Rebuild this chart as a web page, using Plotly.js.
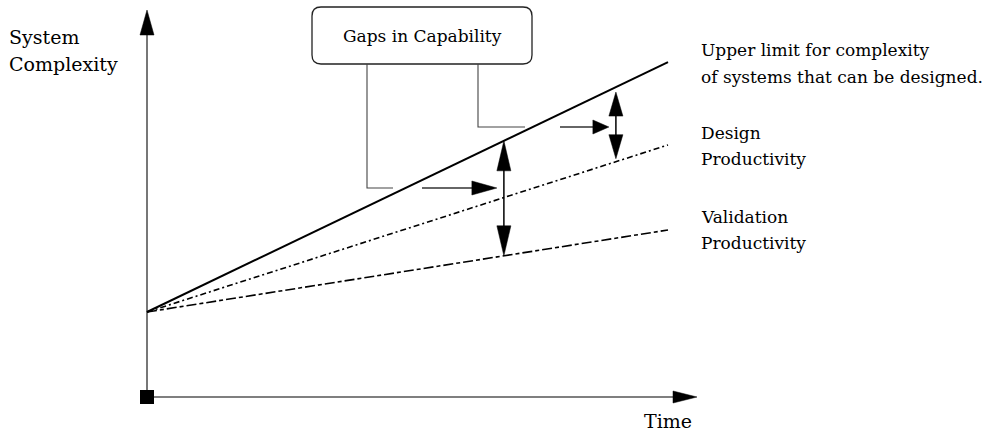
<!DOCTYPE html>
<html>
<head>
<meta charset="utf-8">
<script src="https://cdn.plot.ly/plotly-3.0.1.min.js"></script>
<style>html,body{margin:0;padding:0;background:#fff;}#chart{width:985px;height:436px;}</style>
</head>
<body>
<div id="chart"></div>
<script>
// ---- data ----
const time = [0, 10];
const upperLimit = [2, 7.88];
const designProductivity = [2, 5.93];
const validationProductivity = [2, 3.93];
const gapTimes = [6.85, 9.0];
const seriesNames = ["Upper limit for complexity", "of systems that can be designed.", "Design", "Productivity", "Validation", "Productivity"];
const axisTitles = ["System", "Complexity", "Time"];
const calloutText = "Gaps in Capability";

// ---- pixel <-> data helpers (layout only) ----
const W = 985, H = 436, OX = 147, OY = 397, SX = 52.1, SY = 42.5;
const X = px => (px - OX) / SX;
const Y = py => (OY - py) / SY;
const PX = x => OX + x * SX;
const PY = y => OY - y * SY;
const valueAt = (s, t) => s[0] + (s[1] - s[0]) * (t - time[0]) / (time[1] - time[0]);

const shapes = [];
function pathFromPx(pts, close) {
  let d = pts.map((p, i) => (i ? 'L' : 'M') + X(p[0]).toFixed(4) + ',' + Y(p[1]).toFixed(4)).join(' ');
  if (close) d += ' Z';
  return d;
}
function head(tx, ty, dx, dy, len, hw, layer) {
  const n = Math.hypot(dx, dy); dx /= n; dy /= n;
  const bx = tx - dx * len, by = ty - dy * len;
  const qx = -dy, qy = dx;
  shapes.push({type: 'path', xref: 'x', yref: 'y', path: pathFromPx([[tx, ty], [bx + qx * hw, by + qy * hw], [bx - qx * hw, by - qy * hw]], true),
    fillcolor: '#000', line: {color: '#000', width: 0.5}, layer: layer || 'above'});
}
function seg(pts, color, width, layer) {
  shapes.push({type: 'path', xref: 'x', yref: 'y', path: pathFromPx(pts, false), line: {color: color, width: width}, fillcolor: 'rgba(0,0,0,0)', layer: layer || 'above'});
}

// axes with arrowheads
seg([[OX, OY], [OX, 24]], '#555', 1.6, 'below');
head(OX, 10, 0, -1, 25, 7);
seg([[OX, OY], [684, OY]], '#555', 1.6, 'below');
head(697, OY, 1, 0, 24, 6);

// gap arrows (vertical, double-headed)
const gapLowerSeries = [validationProductivity, designProductivity];
const insets = [[0, 0], [5, 3]];
const gapX = [];
gapTimes.forEach((t, i) => {
  const x = PX(t);
  gapX.push(x);
  const yTop = PY(valueAt(upperLimit, t)) + insets[i][0];
  const yBot = PY(valueAt(gapLowerSeries[i], t)) - insets[i][1];
  const len = i === 0 ? 30 : 24;
  seg([[x, yTop + 5], [x, yBot - 5]], '#000', 1.5);
  head(x, yTop, 0, -1, len, 7);
  head(x, yBot, 0, 1, len, 7);
});

// callout box (rounded)
const bx0 = 312, bx1 = 532, by0 = 7, by1 = 64, r = 9;
(function () {
  const P = (x, y) => X(x).toFixed(4) + ',' + Y(y).toFixed(4);
  const d = 'M' + P(bx0 + r, by0) + ' L' + P(bx1 - r, by0) + ' Q' + P(bx1, by0) + ' ' + P(bx1, by0 + r) +
    ' L' + P(bx1, by1 - r) + ' Q' + P(bx1, by1) + ' ' + P(bx1 - r, by1) +
    ' L' + P(bx0 + r, by1) + ' Q' + P(bx0, by1) + ' ' + P(bx0, by1 - r) +
    ' L' + P(bx0, by0 + r) + ' Q' + P(bx0, by0) + ' ' + P(bx0 + r, by0) + ' Z';
  shapes.push({type: 'path', xref: 'x', yref: 'y', path: d, line: {color: '#222', width: 1.3}, fillcolor: 'rgba(0,0,0,0)'});
})();

// connectors + pointer arrows
const pointerY = [188, 127];
const connX = [367, 478];
const connEnd = [393, 525];
const pointerStart = [422, 560];
for (let i = 0; i < 2; i++) {
  seg([[connX[i], by1], [connX[i], pointerY[i]], [connEnd[i], pointerY[i]]], '#444', 1.1);
  const tip = gapX[i] - 7;
  seg([[pointerStart[i], pointerY[i]], [tip - 10, pointerY[i]]], '#333', 1.3);
  head(tip, pointerY[i], 1, 0, i === 0 ? 25 : 16, 7);
}

const traces = [
  {x: time, y: upperLimit, mode: 'lines', line: {color: '#000', width: 2}, hoverinfo: 'skip'},
  {x: time, y: designProductivity, mode: 'lines', line: {color: '#000', width: 1.6, dash: '6px,3px,2px,3px'}, hoverinfo: 'skip'},
  {x: time, y: validationProductivity, mode: 'lines', line: {color: '#000', width: 1.6, dash: '10px,3px,4px,3px'}, hoverinfo: 'skip'},
  {x: [0], y: [0], mode: 'markers', marker: {symbol: 'square', size: 14, color: '#000'}, hoverinfo: 'skip', cliponaxis: false}
];

const serif = 'DejaVu Serif';
const ann = (txt, px, py, xanchor, size) => ({text: txt, x: X(px), y: Y(py), xref: 'x', yref: 'y', showarrow: false,
  xanchor: xanchor || 'left', yanchor: 'middle', font: {family: serif, size: size || 17, color: '#000'}});
const annotations = [
  ann(axisTitles[0], 7, 37, 'left', 19),
  ann(axisTitles[1], 7, 64, 'left', 19),
  ann(axisTitles[2], 668, 421, 'center', 19),
  ann(calloutText, 422, 36, 'center', 17),
  ann(seriesNames[0], 699, 50),
  ann(seriesNames[1], 699, 77),
  ann(seriesNames[2], 699, 133),
  ann(seriesNames[3], 699, 159),
  ann(seriesNames[4], 699, 217),
  ann(seriesNames[5], 699, 243)
];

const layout = {
  width: W, height: H, margin: {l: 0, r: 0, t: 0, b: 0},
  paper_bgcolor: '#fff', plot_bgcolor: '#fff', showlegend: false,
  xaxis: {range: [X(0), X(W)], visible: false, fixedrange: true},
  yaxis: {range: [Y(H), Y(0)], visible: false, fixedrange: true},
  shapes: shapes, annotations: annotations
};
Plotly.newPlot('chart', traces, layout, {displayModeBar: false, staticPlot: true});
</script>
</body>
</html>
